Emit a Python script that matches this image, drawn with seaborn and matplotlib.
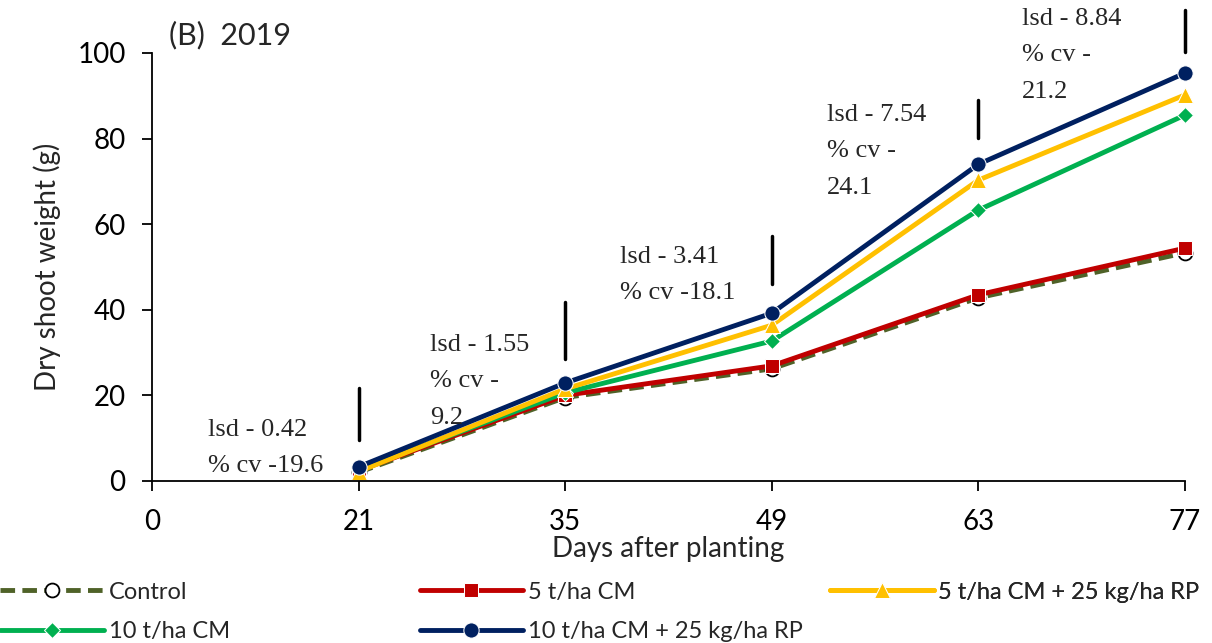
import pandas as pd
import matplotlib.pyplot as plt
import seaborn as sns

# days after planting (category axis, first slot is the empty "0")
days = ['0', '21', '35', '49', '63', '77']
sample_days = ['21', '35', '49', '63', '77']

control = [2.0, 19.5, 26.2, 42.8, 53.3]
cm5 = [2.4, 20.0, 26.9, 43.5, 54.4]
cm5_rp = [2.2, 21.5, 36.4, 70.3, 90.2]
cm10 = [2.6, 20.6, 32.7, 63.3, 85.5]
cm10_rp = [3.3, 22.9, 39.2, 74.0, 95.3]

lsd_text = ['lsd - 0.42\n% cv -19.6', 'lsd - 1.55\n% cv -\n9.2',
            'lsd - 3.41\n% cv -18.1', 'lsd - 7.54\n% cv -\n24.1',
            'lsd - 8.84\n% cv -\n21.2']
# bottom/top of the lsd marker bars (g)
bar_lo = [9.6, 28.5, 46.0, 80.1, 100.2]
bar_hi = [21.7, 41.8, 57.2, 89.0, 110.0]

sns.set_style('white')
plt.rcParams['font.family'] = ['Lato', 'DejaVu Sans']

fig = plt.figure(figsize=(12.12, 6.43), dpi=100)
ax = fig.add_axes([0.1254, 0.252, 0.8523, 0.6656])

pos = [days.index(d) for d in sample_days]

series = [
    ('Control', control, dict(color='#4F6228', ls=(0, (3, 1.5)), marker='o',
                              mfc='white', mec='black', ms=10, mew=1.3)),
    ('5 t/ha CM', cm5, dict(color='#C00000', marker='s', ms=10)),
    ('10 t/ha CM', cm10, dict(color='#00B050', marker='D', ms=8)),
    ('5 t/ha CM + 25 kg/ha RP', cm5_rp, dict(color='#FFC000', marker='^', ms=11)),
    ('10 t/ha CM + 25 kg/ha RP', cm10_rp, dict(color='#002060', marker='o', ms=11)),
]

handles = {}
for name, vals, kw in series:
    df = pd.DataFrame({'x': pos, 'y': vals})
    sns.lineplot(data=df, x='x', y='y', ax=ax, lw=3.5, label=name,
                 clip_on=False, **kw)
for line in ax.get_lines():
    handles[line.get_label()] = line

# lsd bars and text
for i, p in enumerate(pos):
    ax.plot([p, p], [bar_lo[i], bar_hi[i]], color='black', lw=2.5, clip_on=False)

txt_xy = [(0.271, 14.5), (1.345, 34.4), (2.265, 54.9), (3.267, 88.1), (4.21, 110.5)]
for (tx, ty), t in zip(txt_xy, lsd_text):
    ax.text(tx, ty, t, family='Liberation Serif', fontsize=19, va='top',
            ha='left', linespacing=1.85)

ax.set_xlim(0, 5)
ax.set_ylim(0, 100)
ax.set_xticks(range(len(days)))
ax.set_xticklabels(days)
ax.set_yticks([0, 20, 40, 60, 80, 100])
ax.tick_params(axis='both', labelsize=20, length=7, width=1.3, direction='out',
               colors='black', left=True, bottom=True)
ax.tick_params(axis='y', pad=12)
ax.tick_params(axis='x', pad=13)
for s in ['top', 'right']:
    ax.spines[s].set_visible(False)
for s in ['left', 'bottom']:
    ax.spines[s].set_color('black')
    ax.spines[s].set_linewidth(1.3)

ax.set_xlabel('Days after planting', fontsize=20, labelpad=1)
ax.set_ylabel('Dry shoot weight (g)', fontsize=20, labelpad=12)
ax.text(0.08, 102, '(B)  2019', fontsize=22)

# legend laid out on a fixed grid, one legend per column
cols = [(['Control', '10 t/ha CM'], -0.147),
        (['5 t/ha CM', '10 t/ha CM + 25 kg/ha RP'], 0.259),
        (['5 t/ha CM + 25 kg/ha RP'], 0.656)]
for names, x0 in cols:
    leg = ax.legend([handles[n] for n in names], names, loc='upper left',
                    bbox_to_anchor=(x0, -0.235), frameon=False, fontsize=17,
                    handlelength=4.4, labelspacing=0.8, handletextpad=0.2,
                    borderaxespad=0, borderpad=0)
    ax.add_artist(leg)

plt.savefig('out.png', dpi=100)
